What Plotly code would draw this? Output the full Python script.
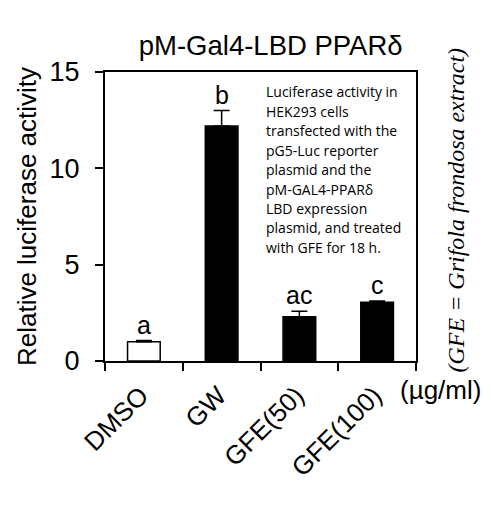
import plotly.graph_objects as go

categories = ["DMSO", "GW", "GFE(50)", "GFE(100)"]
values = [1.0, 12.2, 2.3, 3.05]
errors = [0.06, 0.8, 0.28, 0.07]
letters = ["a", "b", "ac", "c"]
bar_colors = ["white", "black", "black", "black"]
y_ticks = [0, 5, 10, 15]
note_lines = ["Luciferase activity in", "HEK293 cells", "transfected with the",
              "pG5-Luc reporter", "plasmid and the", "pM-GAL4-PPARδ",
              "LBD expression", "plasmid, and treated", "with GFE for 18 h."]

SANS = "Liberation Sans, Arial, Helvetica"

fig = go.Figure()
fig.add_trace(go.Bar(
    x=categories, y=values, width=0.42,
    marker=dict(color=bar_colors, line=dict(color="black", width=1.5)),
    error_y=dict(type="data", array=errors, arrayminus=[0]*4, symmetric=False,
                 color="black", thickness=1.5, width=8),
    showlegend=False,
))

for c, v, e, l in zip(categories, values, errors, letters):
    fig.add_annotation(x=c, y=v + e, text=l, showarrow=False, yanchor="bottom",
                       yshift=0, font=dict(size=25, color="black", family=SANS))

for i, line in enumerate(note_lines):
    fig.add_annotation(xref="paper", yref="paper", x=0.52, y=1 - (20 + i * 19.4) / 289,
                       text=line, showarrow=False, xanchor="left", yanchor="middle",
                       xshift=-3,
                       font=dict(size=14, color="black", family="Open Sans"))

fig.add_annotation(xref="paper", yref="paper", x=1.0, y=-0.1, text="(µg/ml)",
                   showarrow=False, xanchor="left", yanchor="middle", xshift=-18,
                   font=dict(size=26, color="black", family=SANS))

fig.add_annotation(xref="paper", yref="paper", x=1.0, y=0.5, xshift=39, yshift=6,
                   text="<i>(GFE = Grifola frondosa extract)</i>", textangle=-90,
                   showarrow=False, xanchor="center", yanchor="middle",
                   font=dict(size=24, color="black", family="Liberation Serif"))

fig.update_layout(
    width=482, height=499,
    margin=dict(l=97, r=74, t=64, b=146),
    paper_bgcolor="white", plot_bgcolor="white",
    title=dict(text="pM-Gal4-LBD PPARδ", x=0.545, xanchor="center", y=0.926,
               yanchor="middle",
               font=dict(size=27.5, color="black", family=SANS)),
    font=dict(family=SANS, color="black"),
)
fig.update_xaxes(
    type="category", tickson="boundaries", ticks="outside", ticklen=8,
    tickwidth=1.5, tickcolor="black", tickangle=-45, automargin=False,
    ticklabelshift=-3, ticklabelstandoff=7,
    showline=True, linecolor="black", linewidth=2, mirror=True,
    showgrid=False, tickfont=dict(size=26, color="black"),
)
fig.update_yaxes(
    range=[0, 15], tickvals=y_ticks, ticks="outside", ticklen=8, tickwidth=1.5,
    tickcolor="black", showline=True, linecolor="black", linewidth=2, mirror=True,
    showgrid=False, zeroline=False, tickfont=dict(size=27, color="black"),
    ticklabelstandoff=10, automargin=False,
    title=dict(text="Relative luciferase activity", standoff=5,
               font=dict(size=26, color="black")),
)

fig.write_html("out.html")
